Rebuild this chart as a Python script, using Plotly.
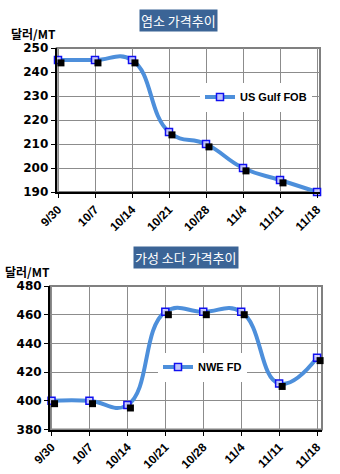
import plotly.graph_objects as go

# Weekly price data
dates = ["9/30", "10/7", "10/14", "10/21", "10/28", "11/4", "11/11", "11/18"]
chlorine_prices = [245, 245, 245, 215, 210, 200, 195, 190]   # US Gulf FOB
caustic_prices = [400, 400, 397, 462, 462, 462, 412, 430]    # NWE FD

chlorine_ticks = [190, 200, 210, 220, 230, 240, 250]
caustic_ticks = [380, 400, 420, 440, 460, 480]

W, H = 340, 474
LINE = "#4D8FDB"
TITLE_BG = "#3B6496"
GRID = "#8C8C8C"


def px_x(p):
    return p / W


def px_y(p):
    return 1 - p / H


top_dom_x = [px_x(56.7), px_x(320)]
top_dom_y = [px_y(192), px_y(48)]
bot_dom_x = [px_x(50), px_x(322)]
bot_dom_y = [px_y(429.5), px_y(286)]

top_xr = [-0.035, 7.08]
top_yr = [190, 250]
bot_xr = [-0.04, 7.13]
bot_yr = [380, 480]

fig = go.Figure()

marker_main = dict(symbol="square", size=7, color="rgba(210,205,255,0.85)",
                   line=dict(color="#1010F0", width=1.5))
marker_shadow = dict(symbol="square", size=7, color="black")

# drop shadows of the markers (same data on slightly offset axes)
fig.add_trace(go.Scatter(x=dates, y=chlorine_prices, mode="markers",
                         xaxis="x3", yaxis="y3", marker=marker_shadow,
                         cliponaxis=False, showlegend=False, hoverinfo="skip"))
fig.add_trace(go.Scatter(x=dates, y=caustic_prices, mode="markers",
                         xaxis="x4", yaxis="y4", marker=marker_shadow,
                         cliponaxis=False, showlegend=False, hoverinfo="skip"))
# main series
fig.add_trace(go.Scatter(x=dates, y=chlorine_prices, name="US Gulf FOB",
                         mode="lines+markers", xaxis="x", yaxis="y",
                         line=dict(color=LINE, width=4, shape="spline", smoothing=1.3),
                         marker=marker_main, cliponaxis=False, legend="legend"))
fig.add_trace(go.Scatter(x=dates, y=caustic_prices, name="NWE FD",
                         mode="lines+markers", xaxis="x2", yaxis="y2",
                         line=dict(color=LINE, width=4, shape="spline", smoothing=1.3),
                         marker=marker_main, cliponaxis=False, legend="legend2"))

tick_font_y = dict(family="DejaVu Sans", size=12, color="black", weight="bold")
tick_font_x = dict(family="Liberation Sans", size=12, color="black", weight="bold")

common_x = dict(type="category", categoryorder="array", categoryarray=dates,
                showgrid=True, gridcolor=GRID, gridwidth=1,
                showline=True, linecolor="black", linewidth=2,
                ticks="outside", ticklen=4, tickcolor="black", tickwidth=1,
                tickangle=-45, tickfont=tick_font_x, fixedrange=True,
                zeroline=False, automargin=False)
common_y = dict(showgrid=True, gridcolor=GRID, gridwidth=1,
                showline=True, linecolor="black", linewidth=2,
                ticks="outside", ticklen=4, tickcolor="black", tickwidth=1,
                tickfont=tick_font_y, fixedrange=True, zeroline=False,
                automargin=False)

hidden = dict(visible=False, fixedrange=True, showgrid=False, zeroline=False,
              automargin=False)

fig.update_layout(
    width=W, height=H,
    margin=dict(l=0, r=0, t=0, b=0, autoexpand=False),
    paper_bgcolor="white", plot_bgcolor="white",
    xaxis=dict(common_x, domain=top_dom_x, range=top_xr, anchor="y"),
    yaxis=dict(common_y, domain=top_dom_y, range=top_yr, tickvals=chlorine_ticks, anchor="x"),
    xaxis2=dict(common_x, domain=bot_dom_x, range=bot_xr, anchor="y2"),
    yaxis2=dict(common_y, domain=bot_dom_y, range=bot_yr, tickvals=caustic_ticks, anchor="x2"),
    xaxis3=dict(hidden, type="category", categoryorder="array", categoryarray=dates,
                domain=top_dom_x, range=[top_xr[0] - 0.08, top_xr[1] - 0.08],
                overlaying="x", anchor="y3"),
    yaxis3=dict(hidden, domain=top_dom_y, range=[top_yr[0] + 1.2, top_yr[1] + 1.2],
                overlaying="y", anchor="x3"),
    xaxis4=dict(hidden, type="category", categoryorder="array", categoryarray=dates,
                domain=bot_dom_x, range=[bot_xr[0] - 0.08, bot_xr[1] - 0.08],
                overlaying="x2", anchor="y4"),
    yaxis4=dict(hidden, domain=bot_dom_y, range=[bot_yr[0] + 2.0, bot_yr[1] + 2.0],
                overlaying="y2", anchor="x4"),
    legend=dict(x=px_x(200), y=px_y(97), xanchor="left", yanchor="middle",
                bgcolor="white", borderwidth=0, itemwidth=30,
                font=dict(family="Liberation Sans", size=11, color="black", weight="bold")),
    legend2=dict(x=px_x(158), y=px_y(367), xanchor="left", yanchor="middle",
                 bgcolor="white", borderwidth=0, itemwidth=30,
                 font=dict(family="Liberation Sans", size=11, color="black", weight="bold")),
    showlegend=True,
)

# gray top/right frame of each plot area
for xr, yr in (("x", "y"), ("x2", "y2")):
    fig.add_shape(type="rect", xref=f"{xr} domain", yref=f"{yr} domain",
                  x0=0, x1=1, y0=0, y1=1, line=dict(color="#808080", width=2),
                  layer="below")

kfont = "Noto Sans CJK KR"
ann = dict(xref="paper", yref="paper", showarrow=False,
           xanchor="center", yanchor="middle")
fig.add_annotation(ann, text="염소 가격추이", x=px_x(178), y=px_y(20.5),
                   font=dict(family=kfont, size=13, color="white"),
                   bgcolor=TITLE_BG, borderpad=1)
fig.add_annotation(ann, text="가성 소다 가격추이", x=px_x(186), y=px_y(257.5),
                   font=dict(family=kfont, size=13, color="white"),
                   bgcolor=TITLE_BG, borderpad=1)
fig.add_annotation(ann, text="달러/MT", x=px_x(33), y=px_y(33),
                   font=dict(family=kfont, size=12, color="black", weight="bold"))
fig.add_annotation(ann, text="달러/MT", x=px_x(27), y=px_y(271),
                   font=dict(family=kfont, size=12, color="black", weight="bold"))

fig.write_html("out.html")
